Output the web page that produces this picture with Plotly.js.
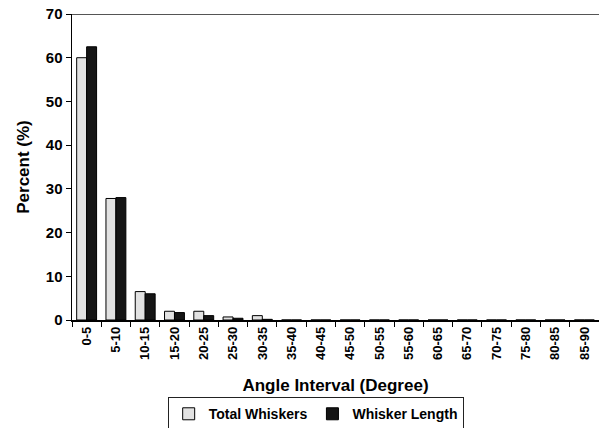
<!DOCTYPE html>
<html><head><meta charset="utf-8">
<script src="https://cdn.plot.ly/plotly-3.0.1.min.js"></script>
<style>html,body{margin:0;padding:0;background:#fff}</style>
</head><body><div id="chart" style="width:599px;height:428px"></div>
<script>
const categories = ["0-5","5-10","10-15","15-20","20-25","25-30","30-35","35-40","40-45","45-50","50-55","55-60","60-65","65-70","70-75","75-80","80-85","85-90"];
const totalWhiskers = [60, 27.8, 6.5, 2, 2, 0.7, 1, 0, 0, 0, 0, 0, 0, 0, 0, 0, 0, 0];
const whiskerLength = [62.5, 28, 6, 1.7, 1, 0.4, 0.15, 0, 0, 0, 0, 0, 0, 0, 0, 0, 0, 0];
const yTicks = [0,10,20,30,40,50,60,70];

const font = "Liberation Sans, Arial, sans-serif";
const traces = [
  {type:"bar", name:"Total Whiskers", x:categories, y:totalWhiskers,
   marker:{color:"#e2e2e2", line:{color:"#000", width:1}}},
  {type:"bar", name:"Whisker Length", x:categories, y:whiskerLength,
   marker:{color:"#151515", line:{color:"#000", width:1}}}
];
const layout = {
  width:599, height:428,
  margin:{l:72, r:0, t:14, b:108, autoexpand:false},
  paper_bgcolor:"#fff", plot_bgcolor:"#fff",
  barmode:"group", bargap:0.32, bargroupgap:0,
  font:{family:font, color:"#000"},
  showlegend:true,
  legend:{orientation:"h", x:0.527, xref:"container", xanchor:"center",
    y:0.072, yref:"container", yanchor:"top",
    bordercolor:"#222", borderwidth:1, font:{size:14, family:font, weight:"bold"},
    itemwidth:30, tracegroupgap:0},
  xaxis:{type:"category", range:[-0.5,17.5], showline:true, linecolor:"#000", linewidth:1.5,
    ticks:"outside", tickson:"boundaries", ticklen:5, tickcolor:"#000",
    tickangle:-90, tickfont:{size:13, family:font, weight:"bold"},
    showgrid:false, zeroline:false, automargin:false,
    title:{text:"Angle Interval (Degree)", font:{size:17, family:font, weight:"bold"}, standoff:20}},
  yaxis:{range:[0,70], tickvals:yTicks, showline:true, linecolor:"#000", linewidth:1.5,
    ticks:"outside", ticklen:5, tickcolor:"#000",
    tickfont:{size:15, family:font, weight:"bold"},
    showgrid:false, zeroline:false, automargin:false,
    title:{text:"Percent (%)", font:{size:17, family:font, weight:"bold"}, standoff:12}},
  shapes:[{type:"line", xref:"paper", yref:"y", x0:0, x1:1, y0:70, y1:70,
    line:{color:"#555", width:2}}]
};
Plotly.newPlot("chart", traces, layout, {displayModeBar:false, staticPlot:true});
</script></body></html>
